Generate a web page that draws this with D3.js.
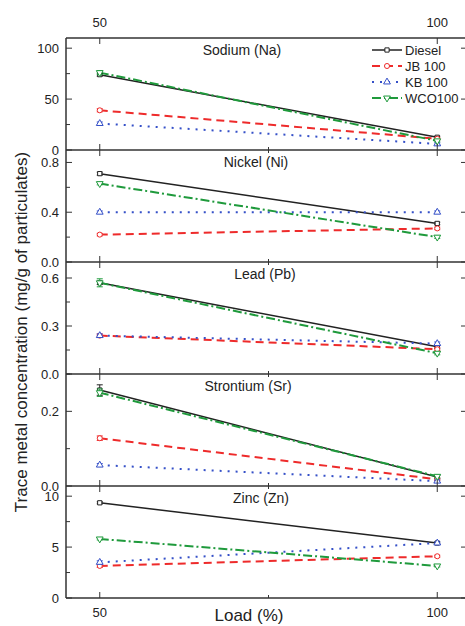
<!DOCTYPE html>
<html>
<head>
<meta charset="utf-8">
<script src="https://cdn.jsdelivr.net/npm/d3@7"></script>
<style>
  body { margin: 0; background: #fff; }
  text { font-family: "Liberation Sans", Arial, sans-serif; fill: #222; }
</style>
</head>
<body>
<script>
// data
const loads = [50, 100];
const seriesNames = ["Diesel", "JB 100", "KB 100", "WCO100"];
const elementNames = ["Sodium (Na)", "Nickel (Ni)", "Lead (Pb)", "Strontium (Sr)", "Zinc (Zn)"];

// values per series: [at 50 %, at 100 %], order Diesel, JB, KB, WCO
const sodium    = [[74, 12.5], [39, 11], [26, 6], [76, 9]];
const nickel    = [[0.71, 0.31], [0.22, 0.27], [0.40, 0.40], [0.63, 0.20]];
const lead      = [[0.57, 0.17], [0.24, 0.155], [0.24, 0.19], [0.57, 0.13]];
const strontium = [[0.257, 0.024], [0.128, 0.018], [0.056, 0.013], [0.25, 0.026]];
const zinc      = [[9.35, 5.4], [3.15, 4.1], [3.5, 5.4], [5.8, 3.15]];

const sodiumErr    = [[1.5, 1], [1.5, 1], [1.5, 1], [2, 1]];
const nickelErr    = [[0.012, 0.01], [0.01, 0.01], [0.01, 0.01], [0.01, 0.01]];
const leadErr      = [[0.01, 0.01], [0.01, 0.01], [0.01, 0.01], [0.025, 0.01]];
const strontiumErr = [[0.014, 0.004], [0.006, 0.003], [0.004, 0.003], [0.01, 0.004]];
const zincErr      = [[0.1, 0.1], [0.15, 0.1], [0.15, 0.1], [0.1, 0.1]];

const yMax = [110, 0.9, 0.7, 0.3, 11];
const majorTicks = [[0, 50, 100], [0, 0.4, 0.8], [0, 0.3, 0.6], [0, 0.2], [0, 5, 10]];
const minorTicks = [[25, 75], [0.2, 0.6], [0.15, 0.45], [0.1, 0.3], [2.5, 7.5]];
const tickFormats = ["d", ".1f", ".1f", ".1f", "d"];

const panelValues = [sodium, nickel, lead, strontium, zinc];
const panelErrors = [sodiumErr, nickelErr, leadErr, strontiumErr, zincErr];

// styles
const colors = ["#222222", "#ee2b2b", "#3550c8", "#1f9a3c"];
const dashes = [null, "8,5", "2,6", "9,3,2,3"];
const widths = [1.5, 2, 2, 2];
const symbols = [d3.symbolSquare, d3.symbolCircle, d3.symbolTriangle, d3.symbolTriangle];
const titleX = [242, 256, 265, 248, 261];

const width = 465, height = 626;
const plotLeft = 66, plotRight = 471, plotTop = 38, panelH = 112;

const svg = d3.select("body").append("svg")
  .attr("width", width)
  .attr("height", height);

const x = d3.scaleLinear().domain([45, 105]).range([plotLeft, plotRight]);

function drawMarker(g, cx, cy, i) {
  const sym = d3.symbol().type(symbols[i]).size(i == 0 ? 18 : 20);
  g.append("path")
    .attr("d", sym())
    .attr("transform", `translate(${cx},${cy})` + (i == 3 ? " rotate(180)" : ""))
    .attr("fill", "#fff")
    .attr("stroke", colors[i])
    .attr("stroke-width", 1);
}

panelValues.forEach((vals, p) => {
  const y0 = plotTop + p * panelH;
  const y = d3.scaleLinear().domain([0, yMax[p]]).range([y0 + panelH, y0]);
  const g = svg.append("g");

  // lines
  vals.forEach((v, i) => {
    const line = d3.line().x((d, k) => x(loads[k])).y((d) => y(d));
    g.append("path")
      .attr("d", line(v))
      .attr("fill", "none")
      .attr("stroke", colors[i])
      .attr("stroke-width", widths[i])
      .attr("stroke-dasharray", dashes[i]);
  });

  // error bars and markers
  vals.forEach((v, i) => {
    v.forEach((val, k) => {
      const e = panelErrors[p][i][k];
      const cx = x(loads[k]);
      g.append("path")
        .attr("d", `M${cx},${y(val - e)}V${y(val + e)}M${cx - 3},${y(val - e)}h6M${cx - 3},${y(val + e)}h6`)
        .attr("stroke", colors[i])
        .attr("stroke-width", 1)
        .attr("fill", "none");
      drawMarker(g, cx, y(val), i);
    });
  });

  // frame: horizontal lines
  g.append("line").attr("x1", plotLeft).attr("x2", plotRight).attr("y1", y0 + panelH).attr("y2", y0 + panelH)
    .attr("stroke", "#333").attr("stroke-width", 1.5);
  if (p == 0) {
    g.append("line").attr("x1", plotLeft).attr("x2", plotRight).attr("y1", y0).attr("y2", y0)
      .attr("stroke", "#333").attr("stroke-width", 1.5);
  }

  // x ticks on top and bottom of each panel (inward)
  [50, 75, 100].forEach((t) => {
    const len = t == 75 ? 3 : 6;
    g.append("line").attr("x1", x(t)).attr("x2", x(t))
      .attr("y1", y0 + panelH).attr("y2", y0 + panelH - len)
      .attr("stroke", "#333").attr("stroke-width", 1);
    if (p > 0 || t != 75) {
      g.append("line").attr("x1", x(t)).attr("x2", x(t))
        .attr("y1", y0).attr("y2", y0 + len)
        .attr("stroke", "#333").attr("stroke-width", 1);
    }
  });

  // y axis ticks and labels
  const fmt = d3.format(tickFormats[p]);
  majorTicks[p].forEach((t) => {
    g.append("line").attr("x1", plotLeft).attr("x2", plotLeft + 6).attr("y1", y(t)).attr("y2", y(t))
      .attr("stroke", "#333").attr("stroke-width", 1);
    g.append("line").attr("x1", plotRight - 10).attr("x2", plotRight).attr("y1", y(t)).attr("y2", y(t))
      .attr("stroke", "#333").attr("stroke-width", 1);
    g.append("text")
      .attr("x", 59).attr("y", y(t) + 4.5)
      .attr("text-anchor", "end")
      .style("font-size", "13px")
      .text(fmt(t));
  });
  minorTicks[p].forEach((t) => {
    g.append("line").attr("x1", plotLeft).attr("x2", plotLeft + 4).attr("y1", y(t)).attr("y2", y(t))
      .attr("stroke", "#333").attr("stroke-width", 1);
  });

  // panel title
  g.append("text")
    .attr("x", titleX[p]).attr("y", y0 + 17)
    .attr("text-anchor", "middle")
    .style("font-size", "14px")
    .text(elementNames[p]);
});

// left axis line
svg.append("line").attr("x1", plotLeft).attr("x2", plotLeft).attr("y1", plotTop).attr("y2", plotTop + 5 * panelH)
  .attr("stroke", "#333").attr("stroke-width", 1.5);

// x tick labels top and bottom
loads.forEach((t) => {
  svg.append("text").attr("x", x(t)).attr("y", 27)
    .attr("text-anchor", "middle").style("font-size", "13px").text(t);
  svg.append("text").attr("x", x(t)).attr("y", 617)
    .attr("text-anchor", "middle").style("font-size", "13px").text(t);
});

// axis titles
svg.append("text")
  .attr("x", 249).attr("y", 621)
  .attr("text-anchor", "middle")
  .style("font-size", "17px")
  .text("Load (%)");

svg.append("text")
  .attr("transform", "translate(27,332) rotate(-90)")
  .attr("text-anchor", "middle")
  .style("font-size", "17px")
  .text("Trace metal concentration (mg/g of particulates)");

// legend
const legend = svg.append("g");
seriesNames.forEach((name, i) => {
  const ly = 50 + i * 16;
  legend.append("line")
    .attr("x1", 372).attr("x2", 402).attr("y1", ly).attr("y2", ly)
    .attr("stroke", colors[i])
    .attr("stroke-width", widths[i])
    .attr("stroke-dasharray", dashes[i]);
  drawMarker(legend, 387, ly, i);
  legend.append("text")
    .attr("x", 405).attr("y", ly + 4.5)
    .style("font-size", "13px")
    .text(name);
});
</script>
</body>
</html>
